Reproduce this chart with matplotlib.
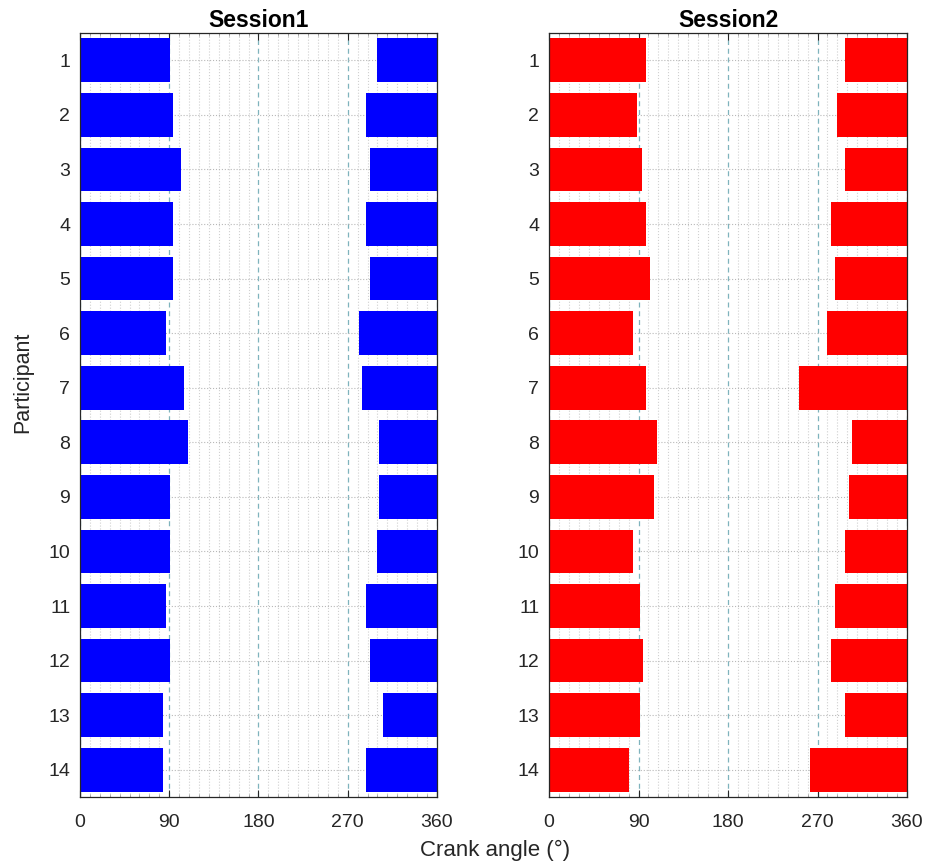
import matplotlib.pyplot as plt
from matplotlib.ticker import MultipleLocator

plt.rcParams['font.family'] = ['Liberation Sans', 'DejaVu Sans']

participants = list(range(1, 15))

# Session1: angle where the first bar ends / where the second bar starts
s1_end = [91, 94, 102, 94, 94, 87, 105, 109, 91, 91, 87, 91, 84, 84]
s1_start = [299, 288, 292, 288, 292, 281, 284, 302, 302, 299, 288, 292, 306, 288]

# Session2
s2_end = [98, 88, 94, 98, 102, 84, 98, 109, 106, 84, 91, 95, 91, 80]
s2_start = [298, 290, 298, 284, 288, 280, 251, 305, 302, 298, 288, 284, 298, 262]

sessions = ["Session1", "Session2"]
colors = ["#0000ff", "#ff0000"]

fig = plt.figure(figsize=(9.28, 8.65), dpi=100)
ax1 = fig.add_axes([0.0862, 0.0786, 0.3847, 0.8832])
ax2 = fig.add_axes([0.5916, 0.0786, 0.3858, 0.8832])

for ax, title, ends, starts, col in zip([ax1, ax2], sessions,
                                        [s1_end, s2_end], [s1_start, s2_start], colors):
    ax.set_axisbelow(True)
    ax.barh(participants, ends, left=0, height=0.8, color=col, zorder=2)
    ax.barh(participants, [360 - s for s in starts], left=starts, height=0.8,
            color=col, zorder=2)

    ax.set_xlim(0, 360)
    ax.set_ylim(14.5, 0.5)
    ax.xaxis.set_major_locator(MultipleLocator(90))
    ax.xaxis.set_minor_locator(MultipleLocator(10))
    ax.set_yticks(participants)

    # grid, MATLAB style
    ax.grid(True, which='major', axis='x', color='#7fb3bd', linestyle=(0, (4, 3)), linewidth=0.9)
    ax.grid(True, which='minor', axis='x', color='#d0d0d0', linestyle=':', linewidth=0.8)
    ax.grid(True, which='major', axis='y', color='#b8b8b8', linestyle=':', linewidth=0.8)

    ax.tick_params(axis='both', which='major', direction='in', length=5, width=0.8,
                   top=True, right=True, labelsize=14, colors='#262626',
                   labelcolor='#262626')
    ax.tick_params(axis='x', which='major', pad=12)
    ax.tick_params(axis='y', which='major', pad=7)
    ax.tick_params(axis='x', which='minor', direction='in', length=2.5, width=0.5,
                   top=True, colors='#8a8a8a')
    for sp in ax.spines.values():
        sp.set_color('#262626')
        sp.set_linewidth(0.9)

    ax.set_title(title, fontsize=16.5, fontweight='bold', pad=4)

fig.text(0.533, 0.0173, "Crank angle (°)", ha='center', va='center',
         fontsize=16, color='#262626')
fig.text(0.025, 0.558, "Participant", ha='center', va='center', rotation=90,
         fontsize=15.5, color='#262626')

fig.savefig("out.png", dpi=100)
